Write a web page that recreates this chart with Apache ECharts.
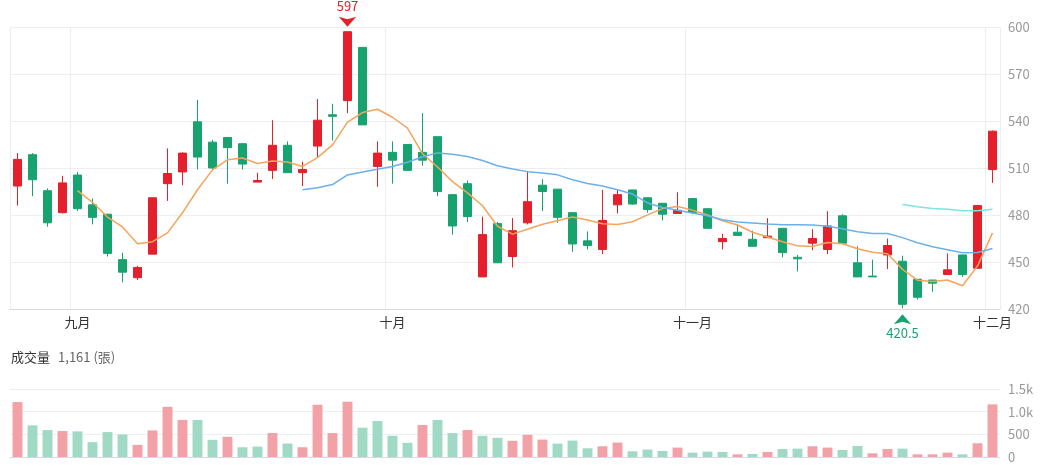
<!DOCTYPE html>
<html>
<head>
<meta charset="utf-8">
<script src="https://cdn.jsdelivr.net/npm/echarts@6/dist/echarts.min.js"></script>
<style>
  html, body { margin: 0; padding: 0; background: #fff; }
  #main { width: 1041px; height: 468px; }
</style>
</head>
<body>
<div id="main"></div>
<script>
// 交易日
var dates = [
  '08/27', '08/28', '08/29', '08/30',
  '09/02', '09/03', '09/04', '09/05', '09/06', '09/09', '09/10', '09/11', '09/12', '09/13',
  '09/16', '09/17', '09/18', '09/19', '09/20', '09/23', '09/24', '09/25', '09/26', '09/27', '09/30',
  '10/01', '10/04', '10/07', '10/08', '10/09', '10/11', '10/14', '10/15', '10/16', '10/17',
  '10/18', '10/21', '10/22', '10/23', '10/24', '10/25', '10/28', '10/29', '10/30', '10/31',
  '11/01', '11/04', '11/05', '11/06', '11/07', '11/08', '11/11', '11/12', '11/13', '11/14',
  '11/15', '11/18', '11/19', '11/20', '11/21', '11/22', '11/25', '11/26', '11/27', '11/28',
  '12/02'
];
var opens = [
  498.5, 518.5, 495.5, 481.5, 505.5, 486.5, 480.5, 451.5, 440, 455,
  500, 507.5, 539.5, 526.5, 529.5, 525.5, 501, 508.5, 524.5, 507,
  524, 544, 553, 587, 511, 520, 525, 520, 530, 493,
  500, 440.5, 474.5, 453.5, 475, 499, 496.5, 481.5, 463.5, 458,
  486.5, 496, 491, 487.5, 481, 490.5, 484, 463, 469, 464.5,
  465.5, 471.5, 453, 462, 458, 479.5, 449.5, 441, 454.5, 450.5,
  439, 438.5, 442, 454.5, 446, 509
];
var closes = [
  515.5, 502.5, 475, 500.5, 484, 478.5, 455.5, 443.5, 446.5, 491,
  506.5, 519.5, 517, 510, 523, 512.5, 502, 524.5, 507, 509,
  540.5, 543, 597, 537.5, 519.5, 515, 508.5, 515, 495, 473,
  479, 467.5, 449.5, 470, 488.5, 495, 478.5, 461.5, 460.5, 476.5,
  493, 487, 483.5, 480.5, 483, 481.5, 471.5, 465, 467, 460,
  466.5, 456, 452, 465, 473, 462, 440.5, 440.5, 460.5, 423,
  427.5, 436.5, 445, 442, 486, 533.5
];
var lows = [
  486, 492, 472.5, 481, 482.5, 474, 453.5, 437, 438.5, 455,
  489, 499, 509, 508.5, 500, 509, 501, 503, 507, 498.5,
  517, 527.5, 545, 537.5, 498, 500, 508.5, 511.5, 492, 467.5,
  475.5, 440.5, 449.5, 446.5, 474, 482.5, 475, 456.5, 458, 455,
  481, 486.5, 481.5, 476.5, 481, 480.5, 471.5, 458, 467, 460,
  465.5, 453, 444, 457.5, 455, 462, 440.5, 440.5, 445.5, 420.5,
  426, 431, 442, 440.5, 446, 500.5
];
var highs = [
  519.5, 519.5, 497, 505, 507.5, 490.5, 480.5, 456, 447.5, 491,
  522.5, 520, 553.5, 528, 529.5, 526, 507, 540.5, 527, 514,
  554, 551, 597, 587, 527, 527, 525, 545, 530, 493,
  502, 479, 475.5, 478, 508, 503, 496.5, 481.5, 469.5, 496,
  496.5, 496, 491, 487.5, 494.5, 490.5, 484.5, 468, 474, 470,
  478, 471.5, 454.5, 471, 482.5, 480.5, 460, 451.5, 465, 454,
  439, 438.5, 455.5, 454.5, 486.5, 534
];
// 成交量 (張)
var volumes = [
  1211, 698, 594, 572, 565, 327, 550, 498, 267, 587,
  1107, 817, 817, 379, 446, 215, 230, 528, 297, 215,
  1152, 528, 1219, 646, 795, 468, 312, 706, 817, 528,
  594, 468, 424, 357, 488, 384, 296, 362, 192, 236,
  318, 126, 163, 133, 207, 96, 118, 111, 59, 67,
  111, 177, 185, 236, 207, 155, 244, 81, 177, 185,
  59, 59, 96, 59, 303, 1161
];
var monthNames = { '09': '九月', '10': '十月', '11': '十一月', '12': '十二月' };
var maDays = [5, 20, 60];
var maColors = ['#f5a45b', '#6cb0ea', '#7de3e3'];

var upColor = '#e3202c';
var downColor = '#17a36f';

function isMonthStart(idx) {
  return idx > 0 && dates[idx].slice(0, 2) !== dates[idx - 1].slice(0, 2);
}

function calculateMA(n) {
  var out = [];
  for (var i = 0; i < closes.length; i++) {
    if (i < n - 1) { out.push('-'); continue; }
    var sum = 0;
    for (var j = 0; j < n; j++) sum += closes[i - j];
    out.push(+(sum / n).toFixed(2));
  }
  return out;
}

var kData = dates.map(function (d, i) {
  return [opens[i], closes[i], lows[i], highs[i]];
});

var volData = volumes.map(function (v, i) {
  var prev = i > 0 ? closes[i - 1] : opens[i];
  return {
    value: v,
    itemStyle: { color: closes[i] >= prev ? '#f2a1a6' : '#a0d9c4' }
  };
});

var chart = echarts.init(document.getElementById('main'));

var series = [{
  name: 'K',
  type: 'candlestick',
  data: kData,
  barWidth: '55%',
  itemStyle: {
    color: upColor, color0: downColor,
    borderColor: upColor, borderColor0: downColor
  },
  markPoint: {
    animation: false,
    data: [{
      type: 'max', valueDim: 'highest',
      symbol: 'arrow', symbolSize: [13, 10], symbolRotate: 180, symbolOffset: [0, -5],
      itemStyle: { color: upColor },
      label: { position: 'top', distance: 4, color: upColor, fontSize: 13 }
    }, {
      type: 'min', valueDim: 'lowest',
      symbol: 'arrow', symbolSize: [13, 10], symbolOffset: [0, 6],
      itemStyle: { color: downColor },
      label: { position: 'bottom', distance: 2, color: downColor, fontSize: 13 }
    }]
  }
}];

maDays.forEach(function (n, k) {
  series.push({
    name: 'MA' + n,
    type: 'line',
    data: calculateMA(n),
    showSymbol: false,
    smooth: false,
    lineStyle: { width: 1.5, color: maColors[k] },
    z: 3
  });
});

series.push({
  name: '成交量',
  type: 'bar',
  xAxisIndex: 1,
  yAxisIndex: 1,
  data: volData,
  barWidth: '66%'
});

var splitColor = '#eceef4';
var axisColor = '#d6d9e2';

chart.setOption({
  animation: false,
  textStyle: { fontFamily: '"Noto Sans CJK TC", "Noto Sans", sans-serif' },
  title: {
    left: 6,
    top: 343,
    text: '{a|成交量}  {b|' + volumes[volumes.length - 1].toLocaleString('en-US') + ' (張)}',
    textStyle: {
      fontWeight: 'normal',
      rich: {
        a: { fontSize: 13, color: '#333', fontWeight: 'normal' },
        b: { fontSize: 13, color: '#666', fontWeight: 'normal' }
      }
    }
  },
  grid: [
    { left: 10, right: 41, top: 27, height: 282 },
    { left: 10, right: 41, top: 389, height: 68 }
  ],
  xAxis: [{
    type: 'category',
    data: dates,
    boundaryGap: true,
    axisLine: { lineStyle: { color: axisColor } },
    axisTick: { show: false },
    axisLabel: {
      interval: function (idx) { return isMonthStart(idx); },
      formatter: function (v) { return monthNames[v.slice(0, 2)] || ''; },
      color: '#333', fontSize: 13, margin: 7
    },
    splitLine: {
      show: true,
      interval: function (idx) { return idx === 0 || isMonthStart(idx); },
      lineStyle: { color: splitColor }
    }
  }, {
    type: 'category',
    gridIndex: 1,
    data: dates,
    boundaryGap: true,
    axisLine: { lineStyle: { color: axisColor } },
    axisTick: { show: false },
    axisLabel: { show: false },
    splitLine: { show: false }
  }],
  yAxis: [{
    type: 'value',
    position: 'right',
    min: 420, max: 600, interval: 30,
    axisLine: { show: false },
    axisTick: { show: false },
    axisLabel: { color: '#999', fontSize: 13, margin: 8 },
    splitLine: { lineStyle: { color: splitColor } }
  }, {
    type: 'value',
    gridIndex: 1,
    position: 'right',
    min: 0, max: 1500, interval: 500,
    axisLine: { show: false },
    axisTick: { show: false },
    axisLabel: {
      color: '#999', fontSize: 13, margin: 8,
      formatter: function (v) { return v >= 1000 ? (v / 1000).toFixed(1) + 'k' : v; }
    },
    splitLine: { lineStyle: { color: splitColor } }
  }],
  series: series
});
</script>
</body>
</html>
